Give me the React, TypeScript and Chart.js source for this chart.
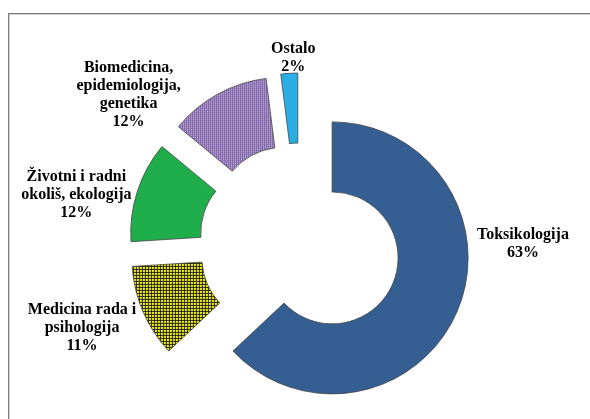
import { useEffect, useRef } from "react";
import { Chart, registerables, ArcElement } from "chart.js";

Chart.register(...registerables);

// ---- data ----
const categories: string[][] = [
  ["Toksikologija"],
  ["Medicina rada i", "psihologija"],
  ["Životni i radni", "okoliš, ekologija"],
  ["Biomedicina,", "epidemiologija,", "genetika"],
  ["Ostalo"],
];
const values: number[] = [63, 11, 12, 12, 2];

// ---- styling / layout (not data) ----
const EXPLODE = 35;
const OUTER_RADIUS = 136;
const CUTOUT = "48.5%";
const FONT = 'bold 16px "Liberation Serif", "Times New Roman", serif';
const LINE_H = 18;
// label nudges relative to the outer mid point of each exploded slice
const labelNudges: [number, number][] = [
  [66, -68],
  [-61, 16],
  [-61, 4],
  [-89, 1],
  [4, -15],
];

function makeYellowPattern(ctx: CanvasRenderingContext2D) {
  const c = document.createElement("canvas");
  c.width = 3;
  c.height = 3;
  const g = c.getContext("2d")!;
  g.fillStyle = "#f2ee10";
  g.fillRect(0, 0, 3, 3);
  g.fillStyle = "#2b2b10";
  g.fillRect(0, 0, 3, 1);
  g.fillRect(0, 0, 1, 3);
  return ctx.createPattern(c, "repeat")!;
}

function makePurplePattern(ctx: CanvasRenderingContext2D) {
  const c = document.createElement("canvas");
  c.width = 2;
  c.height = 2;
  const g = c.getContext("2d")!;
  g.fillStyle = "#7a5ca6";
  g.fillRect(0, 0, 2, 2);
  g.fillStyle = "#ece6f3";
  g.fillRect(0, 0, 1, 1);
  return ctx.createPattern(c, "repeat")!;
}

const explodePlugin = {
  id: "explodeSlices",
  beforeDatasetsDraw(chart: any) {
    const meta = chart.getDatasetMeta(0);
    meta.data.forEach((el: any) => {
      if (el.__exploded) return;
      el.__exploded = true;
      const orig = ArcElement.prototype.draw;
      el.draw = function (ctx: CanvasRenderingContext2D, area: any) {
        const half = (this.startAngle + this.endAngle) / 2;
        ctx.save();
        ctx.translate(Math.cos(half) * EXPLODE, Math.sin(half) * EXPLODE);
        orig.call(this, ctx, area);
        ctx.restore();
      };
    });
  },
};

const labelPlugin = {
  id: "sliceLabels",
  afterDatasetsDraw(chart: any) {
    const ctx: CanvasRenderingContext2D = chart.ctx;
    const meta = chart.getDatasetMeta(0);
    ctx.save();
    ctx.font = FONT;
    ctx.fillStyle = "#000000";
    ctx.textAlign = "center";
    ctx.textBaseline = "middle";
    meta.data.forEach((el: any, i: number) => {
      const half = (el.startAngle + el.endAngle) / 2;
      const r = el.outerRadius + EXPLODE;
      const px = el.x + Math.cos(half) * r + labelNudges[i][0];
      const py = el.y + Math.sin(half) * r + labelNudges[i][1];
      const lines = [...categories[i], `${values[i]}%`];
      const top = py - ((lines.length - 1) * LINE_H) / 2;
      lines.forEach((t, k) => ctx.fillText(t, px, top + k * LINE_H));
    });
    ctx.restore();
  },
};

export default function App() {
  const ref = useRef<HTMLCanvasElement | null>(null);

  useEffect(() => {
    const canvas = ref.current!;
    const ctx = canvas.getContext("2d")!;
    const colors: (string | CanvasPattern)[] = [
      "#355f93",
      makeYellowPattern(ctx),
      "#1fae4b",
      makePurplePattern(ctx),
      "#2aaee3",
    ];
    const chart = new Chart(canvas, {
      type: "doughnut",
      data: {
        labels: categories.map((c) => c.join(" ")),
        datasets: [
          {
            data: values,
            backgroundColor: colors as any,
            borderColor: "#3d3d3d",
            borderWidth: 0.75,
            radius: OUTER_RADIUS,
            clip: false as any,
          } as any,
        ],
      },
      options: {
        responsive: false,
        animation: false,
        cutout: CUTOUT,
        radius: OUTER_RADIUS,
        layout: { padding: { left: 10, right: 0, top: 69, bottom: 0 } },
        plugins: {
          legend: { display: false },
          tooltip: { enabled: false },
        },
        events: [],
      } as any,
      plugins: [explodePlugin, labelPlugin],
    });
    return () => chart.destroy();
  }, []);

  return (
    <>
      <div
        style={{
          position: "absolute",
          left: 8,
          top: 13,
          right: 0,
          bottom: 0,
          borderTop: "1px solid #7f7f7f",
          borderLeft: "1px solid #7f7f7f",
          boxShadow: "inset 1px 1px 0 #d0d0d0",
          background: "#ffffff",
        }}
      />
      <canvas
        ref={ref}
        width={590}
        height={419}
        style={{ position: "absolute", left: 0, top: 0, width: 590, height: 419 }}
      />
    </>
  );
}
